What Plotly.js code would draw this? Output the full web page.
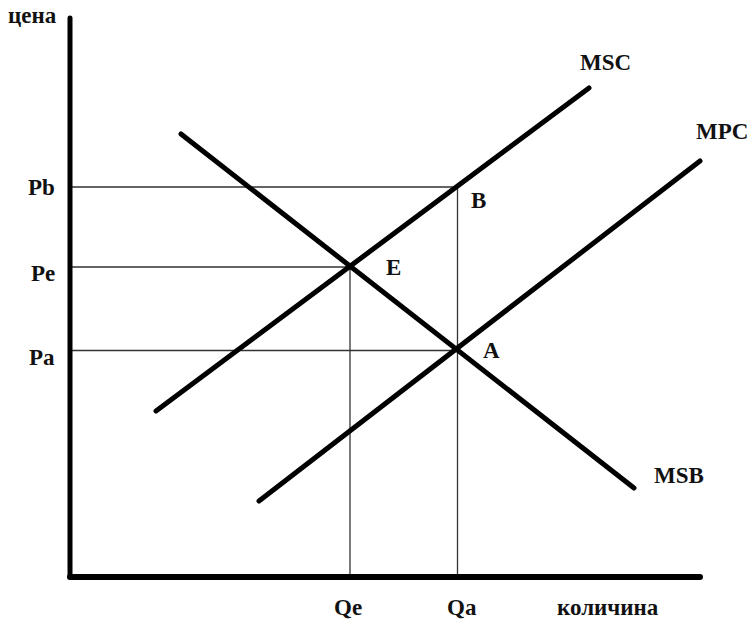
<!DOCTYPE html>
<html>
<head>
<meta charset="utf-8">
<script src="https://cdn.plot.ly/plotly-3.0.1.min.js"></script>
<style>
  html, body { margin: 0; padding: 0; background: #fff; }
  #chart { width: 751px; height: 620px; }
  .js-line { stroke-linecap: round; }
</style>
</head>
<body>
<div id="chart"></div>
<script>
// ---- data (abstract quantity / price units) ----
const axisLabels = { x: 'количина', y: 'цена' };
const qMax = 63.0;          // end of quantity axis
const pMax = 55.9;          // end of price axis

const mscQ = [8.6, 51.9];   const mscP = [16.6, 48.9];
const mpcQ = [18.9, 63.0];  const mpcP = [7.6, 41.6];
const msbQ = [11.1, 56.4];  const msbP = [44.3, 8.9];

const Qe = 28.0, Qa = 38.75;
const Pa = 22.65, Pe = 31.0, Pb = 39.0;

const priceLabels = ['Pb', 'Pe', 'Pa'];
const priceValues = [Pb, Pe, Pa];
const qtyLabels = ['Qe', 'Qa'];
const qtyValues = [Qe, Qa];
const pointLabels = ['E', 'B', 'A'];
const pointQ = [Qe, Qa, Qa];
const pointP = [Pe, Pb, Pa];

// ---- traces ----
const thin = { color: '#333', width: 1.3 };
const thick = { color: '#000', width: 5 };
const traces = [];
function seg(xs, ys, line) {
  traces.push({ x: xs, y: ys, type: 'scatter', mode: 'lines', line: line, hoverinfo: 'skip', showlegend: false });
}
// guide lines
seg([0, Qa], [Pb, Pb], thin);
seg([0, Qe], [Pe, Pe], thin);
seg([0, Qa], [Pa, Pa], thin);
seg([Qe, Qe], [0, Pe], thin);
seg([Qa, Qa], [0, Pb], thin);
// curves
seg(mscQ, mscP, thick);
seg(mpcQ, mpcP, thick);
seg(msbQ, msbP, thick);
// axes
seg([0, 0], [0, pMax], { color: '#000', width: 5 });
seg([0, qMax], [0, 0], { color: '#000', width: 6 });

// ---- annotations ----
const font = { family: '"Liberation Serif", "Times New Roman", serif', size: 23, color: '#111' };
const ann = [];
function label(text, x, y, xs, ys, xanchor) {
  ann.push({ text: '<b>' + text + '</b>', x: x, y: y, xref: 'x', yref: 'y', showarrow: false,
    xshift: xs, yshift: ys, xanchor: xanchor || 'center', yanchor: 'middle', font: font });
}
// price labels
const pShift = [0, -6, -7];
priceLabels.forEach((t, i) => label(t, 0, priceValues[i], -13, pShift[i], 'right'));
// quantity labels
const qShift = [-2.5, 4.5];
qtyLabels.forEach((t, i) => label(t, qtyValues[i], 0, qShift[i], -30));
// point labels
const ptShift = [[43, 0], [20.5, -13], [33.5, 0]];
pointLabels.forEach((t, i) => label(t, pointQ[i], pointP[i], ptShift[i][0], ptShift[i][1]));
// curve labels (near upper/lower ends)
label('MSC', mscQ[1], mscP[1], 16, 26);
label('MPC', mpcQ[1], mpcP[1], 21.5, 30);
label('MSB', msbQ[1], msbP[1], 45, 13);
// axis names
label(axisLabels.x, 53.8, 0, 0, -30);
label(axisLabels.y, 0, pMax, -38, 3);

const layout = {
  width: 751, height: 620,
  margin: { l: 0, r: 0, t: 0, b: 0 },
  paper_bgcolor: '#fff', plot_bgcolor: '#fff',
  xaxis: { range: [-7, 68.1], visible: false, fixedrange: true },
  yaxis: { range: [-4.3, 57.7], visible: false, fixedrange: true },
  annotations: ann,
  showlegend: false
};

Plotly.newPlot('chart', traces, layout, { staticPlot: true, displayModeBar: false });
</script>
</body>
</html>
